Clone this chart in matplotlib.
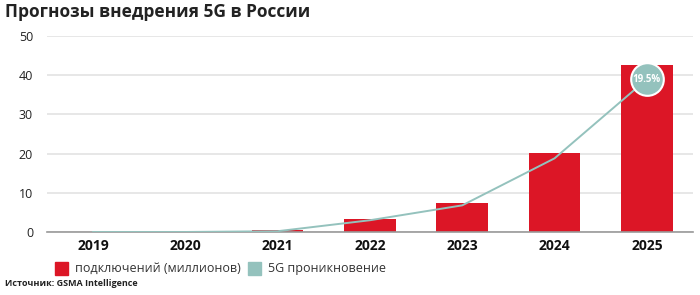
import matplotlib
matplotlib.use("Agg")
import matplotlib.pyplot as plt
from matplotlib.patches import Rectangle

years = ["2019", "2020", "2021", "2022", "2023", "2024", "2025"]
connections = [0.05, 0.1, 0.4, 3.3, 7.4, 20.2, 42.6]
penetration = [0.0, 0.0, 0.1, 1.5, 3.4, 9.4, 19.5]
yticks = [0, 10, 20, 30, 40, 50]

RED = "#DC1626"
TEAL = "#94C2BD"

plt.rcParams['font.family'] = ['Open Sans', 'DejaVu Sans']

fig = plt.figure(figsize=(7, 2.95), dpi=100)
ax = fig.add_axes([0.067, 0.2136, 0.923, 0.664])
x = list(range(len(years)))
ax.bar(x, connections, width=0.56, color=RED, zorder=2)
ax.set_xlim(-0.5, 6.5)
ax.set_ylim(0, 50)
ax.set_yticks(yticks)
ax.set_yticklabels([str(v) for v in yticks], fontsize=9, color="#222222")
ax.set_xticks(x)
ax.set_xticklabels(years, fontsize=10, fontweight="bold", color="#111111")
ax.tick_params(axis='both', length=0)
ax.tick_params(axis='y', pad=10)
ax.tick_params(axis='x', pad=5)
ax.grid(axis='y', color="#E3E3E3", linewidth=1.2, zorder=0)
for s in ["top", "right", "left"]:
    ax.spines[s].set_visible(False)
ax.spines["bottom"].set_color("#999999")
ax.spines["bottom"].set_linewidth(1.2)
ax.spines["bottom"].set_zorder(3)

ax2 = ax.twinx()
ax2.set_ylim(0, 25)
ax2.axis('off')
ax2.plot(x, penetration, color=TEAL, linewidth=1.4, zorder=3)
ax2.plot([x[-1]], [penetration[-1]], marker='o', markersize=23.5, color=TEAL,
         markeredgecolor="white", markeredgewidth=1.5, zorder=4)
ax2.text(x[-1], penetration[-1], f"{penetration[-1]:.1f}%", ha='center', va='center',
         fontsize=7, fontweight='bold', color='white', zorder=5)

fig.text(0.007, 0.958, "Прогнозы внедрения 5G в России", fontsize=12.5, fontweight='bold',
         color="#222222", ha='left', va='center')

# legend
fig.patches.append(Rectangle((55/700, 1 - 275/295), 13/700, 13/295, color=RED,
                             transform=fig.transFigure, figure=fig))
fig.text(75/700, 1 - 268.5/295, "подключений (миллионов)", fontsize=9, color="#333333",
         ha='left', va='center')
fig.patches.append(Rectangle((248/700, 1 - 275/295), 13/700, 13/295, color=TEAL,
                             transform=fig.transFigure, figure=fig))
fig.text(268/700, 1 - 268.5/295, "5G проникновение", fontsize=9, color="#333333",
         ha='left', va='center')

fig.text(5/700, 1 - 284/295, "Источник: GSMA Intelligence", fontsize=6.5, fontweight='bold',
         color="#222222", ha='left', va='center')

fig.savefig("out.png", dpi=100, facecolor="white")
